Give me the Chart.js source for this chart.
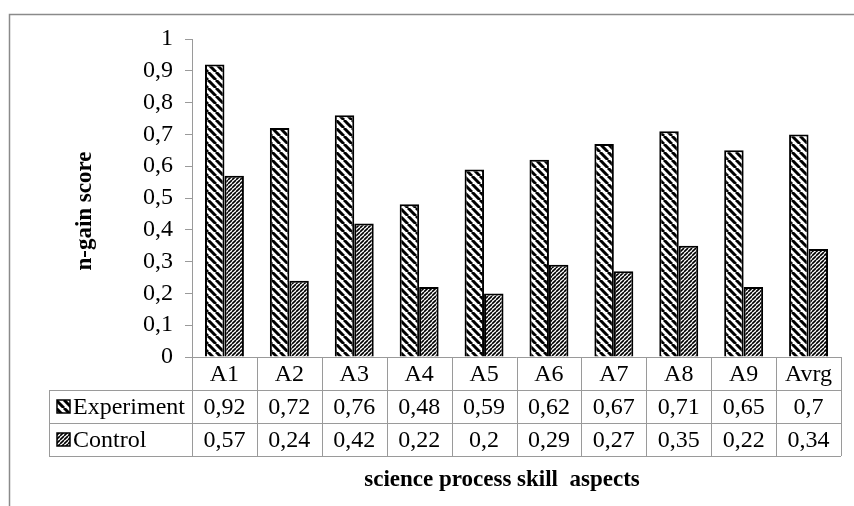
<!DOCTYPE html>
<html>
<head>
  <meta charset="UTF-8">
  <title>n-gain score</title>
  <script src="https://cdn.jsdelivr.net/npm/chart.js"></script>
  <style>
    body { margin: 0; background: #fff; }
    canvas { display: block; }
  </style>
</head>
<body>
  <canvas id="chart" width="854" height="506"></canvas>

  <script>
    const categories = ['A1', 'A2', 'A3', 'A4', 'A5', 'A6', 'A7', 'A8', 'A9', 'Avrg'];
    const experiment = [0.92, 0.72, 0.76, 0.48, 0.59, 0.62, 0.67, 0.71, 0.65, 0.7];
    const control = [0.57, 0.24, 0.42, 0.22, 0.2, 0.29, 0.27, 0.35, 0.22, 0.34];
    const seriesNames = ['Experiment', 'Control'];
    const yTitle = 'n-gain score';
    const xTitle = 'science process skill  aspects';

    const FONT = "'Liberation Serif', 'Times New Roman', serif";
    const LINE = '#9a9a9a';

    const canvas = document.getElementById('chart');
    const ctx = canvas.getContext('2d');

    // diagonal hatch fills, like Excel's pattern fills
    function hatch(size, lw, dir) {
      const c = document.createElement('canvas');
      c.width = size; c.height = size;
      const g = c.getContext('2d');
      g.fillStyle = '#fff';
      g.fillRect(0, 0, size, size);
      g.strokeStyle = '#000';
      g.lineWidth = lw;
      g.beginPath();
      for (let k = -1; k <= 1; k++) {
        if (dir === 'down') {
          g.moveTo(k * size, 0); g.lineTo(k * size + size, size);
        } else {
          g.moveTo(k * size, size); g.lineTo(k * size + size, 0);
        }
      }
      g.stroke();
      return ctx.createPattern(c, 'repeat');
    }
    const expFill = hatch(8, 3, 'down');
    const ctlFill = hatch(4, 1.6, 'up');
    const fills = [expFill, ctlFill];

    const comma = v => String(v).replace('.', ',');

    const tablePlugin = {
      id: 'dataTable',
      beforeDraw(chart) {
        const c = chart.ctx;
        c.save();
        c.strokeStyle = '#8a8a8a';
        c.lineWidth = 1.5;
        c.beginPath();
        c.moveTo(9.5, 506); c.lineTo(9.5, 14.5); c.lineTo(854, 14.5);
        c.stroke();
        c.restore();
      },
      afterDraw(chart) {
        const c = chart.ctx;
        const area = chart.chartArea;
        const n = categories.length;
        const w = (area.right - area.left) / n;
        const top = area.bottom;
        const rowH = 33;
        const legLeft = 49;
        const rows = [categories, experiment.map(comma), control.map(comma)];

        c.save();
        c.strokeStyle = LINE;
        c.lineWidth = 1;
        c.beginPath();
        c.moveTo(area.left, top + 0.5); c.lineTo(area.right, top + 0.5);
        for (let r = 1; r <= 3; r++) {
          const y = Math.round(top + r * rowH) + 0.5;
          c.moveTo(legLeft, y); c.lineTo(area.right, y);
        }
        for (let i = 0; i <= n; i++) {
          const x = Math.round(area.left + i * w) + 0.5;
          c.moveTo(x, top); c.lineTo(x, top + 3 * rowH);
        }
        c.moveTo(legLeft + 0.5, top + rowH); c.lineTo(legLeft + 0.5, top + 3 * rowH);
        c.stroke();

        c.fillStyle = '#000';
        c.font = '24px ' + FONT;
        c.textAlign = 'center';
        c.textBaseline = 'middle';
        rows.forEach((row, r) => {
          const cy = top + r * rowH + rowH / 2 + 1;
          row.forEach((t, i) => {
            const cx = chart.scales.x.getPixelForValue(i);
            c.fillText(t, cx, cy);
          });
        });

        // series keys in the first column
        seriesNames.forEach((name, s) => {
          const cy = top + (s + 1) * rowH + rowH / 2;
          c.fillStyle = fills[s];
          c.fillRect(57, cy - 6.5, 13, 13);
          c.strokeStyle = '#000';
          c.lineWidth = 1.5;
          c.strokeRect(57, cy - 6.5, 13, 13);
          c.fillStyle = '#000';
          c.textAlign = 'left';
          c.fillText(name, 73, cy + 1);
        });

        // axis titles
        c.font = 'bold 23px ' + FONT;
        c.textAlign = 'center';
        c.fillText(xTitle, 502, 480);
        c.translate(85, 211);
        c.rotate(-Math.PI / 2);
        c.fillText(yTitle, 0, 0);
        c.restore();
      }
    };

    new Chart(ctx, {
      type: 'bar',
      data: {
        labels: categories,
        datasets: [
          {
            label: seriesNames[0],
            data: experiment,
            backgroundColor: expFill,
            borderColor: '#000',
            borderWidth: 2
          },
          {
            label: seriesNames[1],
            data: control,
            backgroundColor: ctlFill,
            borderColor: '#000',
            borderWidth: 2
          }
        ]
      },
      options: {
        responsive: false,
        animation: false,
        layout: { padding: { top: 39, right: 13, bottom: 149, left: 0 } },
        plugins: { legend: { display: false }, tooltip: { enabled: false } },
        datasets: { bar: { categoryPercentage: 0.6, barPercentage: 1 } },
        scales: {
          x: { display: false },
          y: {
            min: 0,
            max: 1,
            afterFit: s => { s.width = 192; },
            ticks: {
              stepSize: 0.1,
              padding: 12,
              color: '#000',
              font: { family: FONT, size: 24 },
              callback: v => comma(Math.round(v * 10) / 10)
            },
            grid: { drawOnChartArea: false, tickLength: 7, color: LINE },
            border: { color: LINE }
          }
        }
      },
      plugins: [tablePlugin]
    });
  </script>
</body>
</html>
